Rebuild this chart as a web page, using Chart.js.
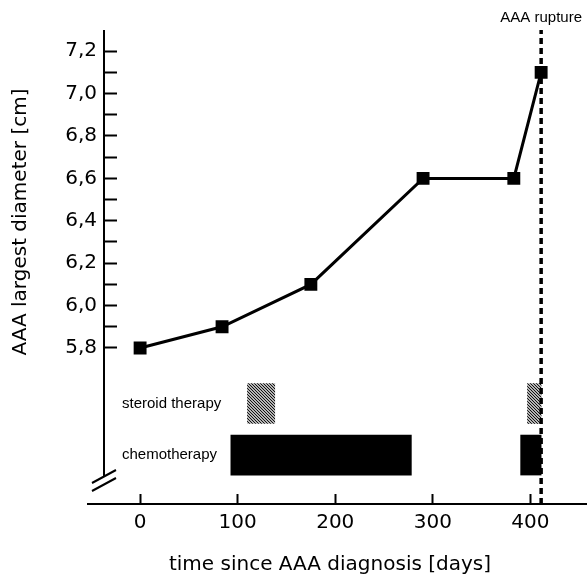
<!DOCTYPE html>
<html>
<head>
<meta charset="utf-8">
<title>AAA diameter over time</title>
<script src="https://cdn.jsdelivr.net/npm/chart.js@4.4.0/dist/chart.umd.min.js"></script>
<style>
  body { margin: 0; background: #fff; }
  #wrap { width: 587px; height: 581px; }
</style>
</head>
<body>
<div id="wrap"><canvas id="diameterChart"></canvas></div>
<script>
// Diameter measurements (days since diagnosis, cm)
const measureDays = [0, 84, 175, 290, 383, 411];
const diameters = [5.8, 5.9, 6.1, 6.6, 6.6, 7.1];

// Day the aneurysm ruptured
const ruptureDay = 411;

// Therapy periods as [start, end] in days
const therapyNames = ['steroid therapy', 'chemotherapy'];
const steroidPeriods = [[110, 138], [397, 411]];
const chemoPeriods = [[93, 278], [390, 411]];

// Axis ticks
const xTicks = [0, 100, 200, 300, 400];
const yMajorTicks = [5.8, 6.0, 6.2, 6.4, 6.6, 6.8, 7.0, 7.2];
const yTickLabels = ['5,8', '6,0', '6,2', '6,4', '6,6', '6,8', '7,0', '7,2'];
const yMinorTicks = [5.9, 6.1, 6.3, 6.5, 6.7, 6.9, 7.1];

const xTitle = 'time since AAA diagnosis [days]';
const yTitle = 'AAA largest diameter [cm]';
const ruptureLabel = 'AAA rupture';

// y range runs below 5,8 to leave room for the therapy rows
const yMin = 5.064;
const yMax = 7.3;

// grey hatching for the steroid bars
function makeHatch() {
    const c = document.createElement('canvas');
    c.width = 3;
    c.height = 3;
    const g = c.getContext('2d');
    g.fillStyle = '#b4b4b4';
    g.fillRect(0, 0, 3, 3);
    g.fillStyle = '#111';
    for (let i = 0; i < 3; i++) g.fillRect(i, i, 1, 1);
    return g.createPattern(c, 'repeat');
}

// broken y axis, axis titles and the rupture label
const brokenAxis = {
    id: 'brokenAxis',
    afterDraw(chart) {
        const { ctx } = chart;
        const { left, top, bottom } = chart.chartArea;
        ctx.save();
        ctx.strokeStyle = '#000';
        ctx.lineWidth = 2;
        ctx.beginPath();
        ctx.moveTo(left, top);
        ctx.lineTo(left, bottom - 28);
        ctx.moveTo(left - 12, bottom - 21);
        ctx.lineTo(left + 12, bottom - 34);
        ctx.moveTo(left - 12, bottom - 13);
        ctx.lineTo(left + 12, bottom - 26);
        ctx.moveTo(left - 17, bottom);
        ctx.lineTo(left, bottom);
        ctx.stroke();

        ctx.fillStyle = '#000';
        ctx.textAlign = 'center';
        ctx.textBaseline = 'middle';
        ctx.font = '15px "Liberation Sans"';
        ctx.fillText(ruptureLabel, chart.scales.x.getPixelForValue(ruptureDay), top - 12);

        ctx.font = '20px "DejaVu Sans"';
        ctx.fillText(xTitle, 330, 565);
        ctx.translate(21, 222);
        ctx.rotate(-Math.PI / 2);
        ctx.fillText(yTitle, 0, 0);
        ctx.restore();
    }
};

const tickFont = { family: 'DejaVu Sans', size: 20 };

new Chart(document.getElementById('diameterChart'), {
    type: 'line',
    data: {
        datasets: [
            {
                label: 'diameter',
                data: measureDays.map((d, i) => ({ x: d, y: diameters[i] })),
                borderColor: '#000',
                borderWidth: 3,
                pointStyle: 'rect',
                pointRadius: 7,
                pointBackgroundColor: '#000',
                pointBorderColor: '#000',
                tension: 0,
                yAxisID: 'y'
            },
            {
                label: 'rupture',
                data: [{ x: ruptureDay, y: yMin }, { x: ruptureDay, y: yMax }],
                borderColor: '#000',
                borderWidth: 3.5,
                borderDash: [6, 4],
                pointRadius: 0,
                yAxisID: 'y'
            },
            {
                type: 'bar',
                label: therapyNames[0],
                indexAxis: 'y',
                xAxisID: 'x',
                yAxisID: 'rows',
                data: steroidPeriods.map(p => ({ x: p, y: 0 })),
                backgroundColor: makeHatch(),
                barThickness: 40,
                grouped: false
            },
            {
                type: 'bar',
                label: therapyNames[1],
                indexAxis: 'y',
                xAxisID: 'x',
                yAxisID: 'rows',
                data: chemoPeriods.map(p => ({ x: p, y: 1 })),
                backgroundColor: '#000',
                barThickness: 40,
                grouped: false
            }
        ]
    },
    options: {
        responsive: true,
        maintainAspectRatio: false,
        animation: false,
        layout: { autoPadding: false, padding: { top: 30, left: 0, right: 0, bottom: 0 } },
        plugins: {
            legend: { display: false },
            tooltip: { enabled: false }
        },
        scales: {
            x: {
                type: 'linear',
                position: 'bottom',
                offset: false,
                min: -37,
                max: 458,
                afterBuildTicks: s => { s.ticks = xTicks.map(v => ({ value: v })); },
                afterFit: s => { s.height = 77; },
                ticks: {
                    font: tickFont,
                    color: '#000',
                    padding: 17,
                    autoSkip: false,
                    maxRotation: 0,
                    callback: v => String(v)
                },
                grid: { offset: false, drawOnChartArea: false, tickLength: -10, tickWidth: 2, tickColor: '#000' },
                border: { display: true, color: '#000', width: 2 }
            },
            y: {
                type: 'linear',
                position: 'left',
                weight: 1,
                min: yMin,
                max: yMax,
                afterBuildTicks: s => {
                    s.ticks = yMajorTicks.concat(yMinorTicks).sort((a, b) => a - b).map(v => ({ value: v }));
                },
                afterFit: s => {
                    s.width = 104;
                    s.paddingTop = 0;
                    s.paddingBottom = 0;
                },
                ticks: {
                    font: tickFont,
                    color: '#000',
                    padding: 20,
                    autoSkip: false,
                    callback: v => {
                        const i = yMajorTicks.findIndex(t => Math.abs(t - v) < 1e-6);
                        return i < 0 ? '' : yTickLabels[i];
                    }
                },
                grid: { drawOnChartArea: false, tickLength: -13, tickWidth: 2, tickColor: '#000' },
                border: { display: false }
            },
            rows: {
                type: 'linear',
                axis: 'y',
                position: 'left',
                weight: 0,
                offset: false,
                reverse: true,
                min: -7.25,
                max: 1.95,
                afterBuildTicks: s => { s.ticks = therapyNames.map((n, i) => ({ value: i })); },
                afterFit: s => {
                    s.width = 0;
                    s.paddingTop = 0;
                    s.paddingBottom = 0;
                },
                ticks: {
                    mirror: true,
                    padding: 18,
                    autoSkip: false,
                    font: { family: 'Liberation Sans', size: 15 },
                    color: '#000',
                    callback: v => therapyNames[v] ?? ''
                },
                grid: { display: false, offset: false },
                border: { display: false }
            }
        }
    },
    plugins: [brokenAxis]
});
</script>
</body>
</html>
